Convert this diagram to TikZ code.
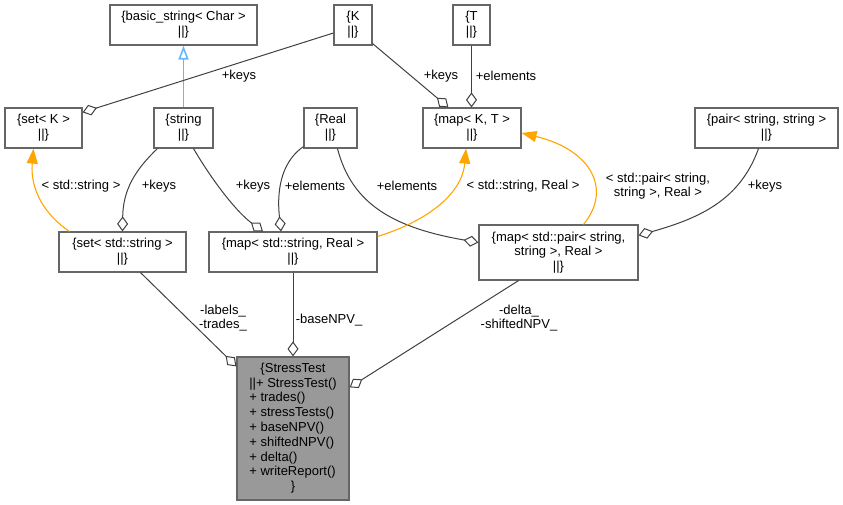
\documentclass[tikz,border=0pt]{standalone}
\usepackage{fontspec}
\setmainfont{Liberation Sans}
\usetikzlibrary{arrows.meta,positioning,calc}
\definecolor{Edge}{HTML}{404040}
\definecolor{Frame}{HTML}{666666}
\definecolor{Focus}{HTML}{999999}
\definecolor{Inherit}{HTML}{63B8FF}
\definecolor{Tmpl}{HTML}{FFA500}
\tikzset{
 cls/.style={draw=Frame,fill=white,align=center,font=\fontsize{13}{14.8}\selectfont,inner sep=0pt,line width=1.2pt},
 focus/.style={cls,fill=Focus},
 agg/.style={draw=Edge,line width=1pt,-{Diamond[open,length=15pt,width=11pt]}},
 tmpl/.style={draw=Tmpl,line width=1.1pt,-{Triangle[length=15pt,width=11pt]}},
 inh/.style={draw=Inherit,line width=1.6pt,-{Triangle[open,length=14pt,width=10pt]}},
 lbl/.style={font=\fontsize{13}{13.5}\selectfont,align=center,inner sep=0pt}
}

\begin{document}
\begin{tikzpicture}[x=1pt,y=-1pt]
\useasboundingbox (0,0) rectangle (843,505);
\node[cls,minimum width=147pt,minimum height=40pt] (bstr) at (183.5,25) {\{basic\_string< Char >\\||\}};
\node[cls,minimum width=38pt,minimum height=40pt] (kk) at (353,25) {\{K\\||\}};
\node[cls,minimum width=37pt,minimum height=40pt] (tt) at (471.5,25) {\{T\\||\}};
\node[cls,minimum width=77pt,minimum height=40pt] (setk) at (43.5,128) {\{set< K >\\||\}};
\node[cls,minimum width=59pt,minimum height=40pt] (str) at (183.5,128) {\{string\\||\}};
\node[cls,minimum width=53pt,minimum height=40pt] (real) at (330.5,128) {\{Real\\||\}};
\node[cls,minimum width=98pt,minimum height=40pt] (mapkt) at (472,128) {\{map< K, T >\\||\}};
\node[cls,minimum width=143pt,minimum height=40pt] (pair) at (766.5,128) {\{pair< string, string >\\||\}};
\node[cls,minimum width=127pt,minimum height=40pt] (sets) at (122.5,252) {\{set< std::string >\\||\}};
\node[cls,minimum width=168pt,minimum height=40pt] (mapsr) at (293,252) {\{map< std::string, Real >\\||\}};
\node[cls,minimum width=159pt,minimum height=55pt] (mapp) at (558.5,252.5) {\{map< std::pair< string,\\string >, Real >\\||\}};
\node[focus,minimum width=112pt,minimum height=143pt] (st) at (293,428.5) {\renewcommand{\arraystretch}{1}\begin{tabular}{@{}c@{}}\{StressTest\\\begin{tabular}{@{}l@{}}||+ StressTest()\\+ trades()\\+ stressTests()\\+ baseNPV()\\+ shiftedNPV()\\+ delta()\\+ writeReport()\end{tabular}\\\}\end{tabular}};
\draw[inh] (str.north) -- (bstr.south);
\draw[agg] ([yshift=-8pt]kk.west) -- ([yshift=-5pt]setk.north east);
\draw[agg] ([yshift=2pt]kk.south east) -- ([xshift=26pt]mapkt.north west);
\draw[agg] (tt.south) -- (tt.south |- mapkt.north);
\draw[tmpl] ([xshift=11pt]sets.north west) .. controls (45,215) and (30,190) .. ([xshift=-10pt]setk.south);
\draw[agg] ([xshift=4pt]str.south west) .. controls (135,170) and (123,190) .. (sets.north);
\draw[agg] ([xshift=10pt]str.south) .. controls (215,185) and (238,213) .. ([xshift=-30pt]mapsr.north);
\draw[agg] ([yshift=2pt]real.south west) .. controls (284,160) and (276,185) .. ([xshift=-12pt]mapsr.north);
\draw[agg] ([xshift=7pt]real.south) .. controls (352,205) and (395,228) .. ([yshift=10pt]mapp.west);
\draw[tmpl] ([yshift=-5pt]mapsr.north east) .. controls (425,222) and (462,195) .. ([xshift=-6pt]mapkt.south);
\draw[tmpl] ([xshift=25pt]mapp.north) .. controls (612,190) and (592,150) .. ([yshift=-5pt]mapkt.east);
\draw[agg] ([xshift=-8pt]pair.south) .. controls (740,200) and (700,218) .. ([yshift=-11pt]mapp.north east);
\draw[agg] ([xshift=18pt]sets.south) -- ([yshift=-10pt]st.north west);
\draw[agg] (mapsr.south) -- (st.north);
\draw[agg] ([xshift=-40pt]mapp.south) -- ([yshift=-31pt]st.north east);
\node[lbl] (l1) at (239,76) {+keys};
\node[lbl] (l2) at (441,76) {+keys};
\node[lbl] (l3) at (506,76) {+elements};
\node[lbl] (l4) at (81,186) {< std::string >};
\node[lbl] (l5) at (159,186) {+keys};
\node[lbl] (l6) at (253,186) {+keys};
\node[lbl] (l7) at (315,186) {+elements};
\node[lbl] (l8) at (407,186) {+elements};
\node[lbl] (l9) at (523,186) {< std::string, Real >};
\node[lbl] (l10) at (658,186) {< std::pair< string,\\string >, Real >};
\node[lbl] (l11) at (765,186) {+keys};
\node[lbl] (l12) at (223,318) {-labels\_\\-trades\_};
\node[lbl] (l13) at (329,320) {-baseNPV\_};
\node[lbl] (l14) at (519,318) {-delta\_\\-shiftedNPV\_};
\end{tikzpicture}
\end{document}
